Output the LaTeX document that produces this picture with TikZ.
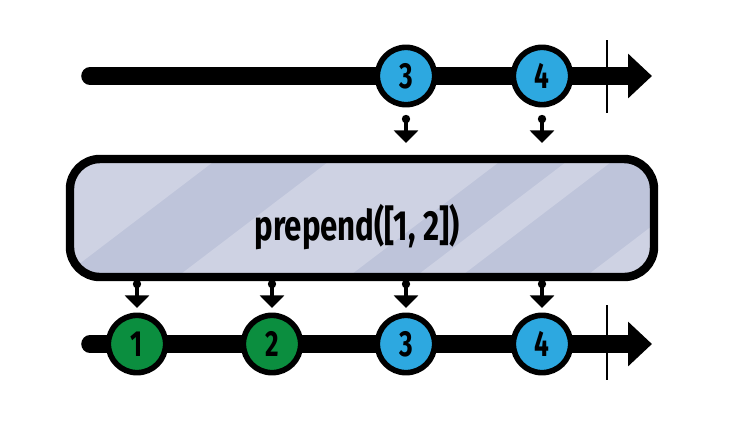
\documentclass[tikz,border=0pt]{standalone}
\usepackage{fontspec}
\setsansfont{Fira Sans}
\usetikzlibrary{positioning,arrows.meta}

\definecolor{marbleblue}{HTML}{2DA8E0}
\definecolor{marblegreen}{HTML}{0B8E3F}
\definecolor{opfill}{HTML}{BEC4DA}
\definecolor{opstripe}{HTML}{CED2E3}

\begin{document}
\begin{tikzpicture}[x=0.03cm,y=-0.03cm,
  timeline/.style={line width=15pt,line cap=round,-{Triangle[length=0.72cm,width=1.3cm]}},
  stopline/.style={line width=2.2pt},
  marble/.style={circle,draw,line width=4.8pt,minimum size=1.72cm,inner sep=0pt,font=\sffamily\bfseries\fontsize{31}{31}\selectfont},
  drip/.style={line width=3.4pt,-{Triangle[length=0.38cm,width=0.72cm]}},
  opbox/.style={draw,line width=7.2pt,rounded corners=0.9cm,minimum width=17.52cm,minimum height=3.54cm}]
  \useasboundingbox (0,0) rectangle (749,435);

  % input stream
  \coordinate (topstart) at (90,76);
  \coordinate (topend) at (652,76);
  \draw[timeline] (topstart) -- (topend);
  \draw[stopline] (607,40) -- (607,113);
  \foreach \v/\x in {3/406,4/542}{
    \node[marble,fill=marbleblue] (top\v) at (\x,76) {\scalebox{0.72}[1]{\v}};
    \coordinate (in\v) at (\x,119);
    \coordinate (inend\v) at (\x,143);
    \fill (in\v) circle (4.2);
    \draw[drip] (in\v) -- (inend\v);
  }

  % operator box
  \begin{scope}
    \clip[rounded corners=0.9cm] (70,159) rectangle (654,277);
    \fill[opfill] (70,159) rectangle (654,277);
    \foreach \a/\b in {-200/62,177/348,415/460,585/700}
      \fill[opstripe] (\a,277) -- (\b,277) -- (\b+155,159) -- (\a+155,159) -- cycle;
  \end{scope}
  \node[opbox] (op) at (362,218) {};
  \node[font=\sffamily\bfseries\fontsize{36}{36}\selectfont] (oplabel) at (357,227) {\scalebox{0.74}[1]{prepend([1, 2])}};

  % output stream
  \foreach \v/\x in {1/137,2/272,3/406,4/542}{
    \coordinate (out\v) at (\x,284);
    \coordinate (outend\v) at (\x,308);
    \fill (out\v) circle (4.2);
    \draw[drip] (out\v) -- (outend\v);
  }
  \coordinate (botstart) at (90,344);
  \coordinate (botend) at (652,344);
  \draw[timeline] (botstart) -- (botend);
  \draw[stopline] (607,305) -- (607,380);
  \foreach \v/\x/\c in {1/137/marblegreen,2/272/marblegreen,3/406/marbleblue,4/542/marbleblue}
    \node[marble,fill=\c] (bot\v) at (\x,344) {\scalebox{0.72}[1]{\v}};
\end{tikzpicture}
\end{document}
